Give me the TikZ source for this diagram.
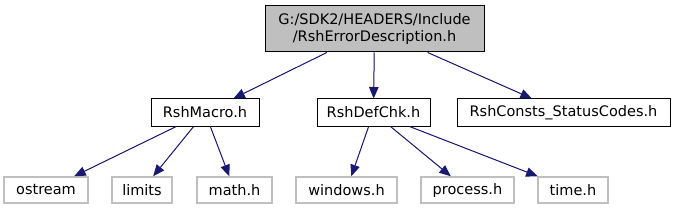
\documentclass[tikz,border=0pt]{standalone}
\usepackage{fontspec}
\setmainfont{DejaVu Sans}
\usepackage{xcolor}
\usetikzlibrary{arrows.meta}
\definecolor{edgeblue}{RGB}{25,25,112}
\definecolor{boxgray}{RGB}{191,191,191}

\tikzset{
  hdr/.style={draw=black, line width=1pt, fill=white, inner sep=0pt,
    minimum height=27pt, font=\fontsize{14.5}{17.5}\selectfont},
  sysheader/.style={hdr, draw=boxgray, line width=1.5pt, minimum height=26pt},
  dep/.style={draw=edgeblue, fill=edgeblue, line width=1pt,
    -{Triangle[length=11.5pt,width=9.5pt]}}
}

\begin{document}
\begin{tikzpicture}[x=1pt, y=-1pt]
\useasboundingbox (0,0) rectangle (676,211);

% top file
\node[hdr, fill=boxgray, minimum width=219pt, minimum height=46pt, align=center]
  (err) at (374.5,29) {G:/SDK2/HEADERS/Include\\/RshErrorDescription.h};

% direct includes
\node[hdr, minimum width=108pt] (macro) at (205,112.5) {RshMacro.h};
\node[hdr, minimum width=113pt] (defchk) at (373.5,112.5) {RshDefChk.h};
\node[hdr, minimum width=213pt] (consts) at (563.5,112.5) {RshConsts\_StatusCodes.h};

% system headers
\node[sysheader, minimum width=84pt] (ostream) at (46,190) {ostream};
\node[sysheader, minimum width=60pt] (limits) at (142,190) {limits};
\node[sysheader, minimum width=75pt] (math) at (234.5,190) {math.h};
\node[sysheader, minimum width=101pt] (windows) at (346.5,190) {windows.h};
\node[sysheader, minimum width=93pt] (process) at (467.5,190) {process.h};
\node[sysheader, minimum width=70pt] (time) at (573,190) {time.h};

\draw[dep] (err) -- (macro);
\draw[dep] (err) -- (defchk);
\draw[dep] (err) -- (consts);

\draw[dep] (macro) -- (ostream);
\draw[dep] (macro) -- (limits);
\draw[dep] (macro) -- (math);

\draw[dep] (defchk) -- (windows);
\draw[dep] (defchk) -- (process);
\draw[dep] (defchk) -- (time);
\end{tikzpicture}
\end{document}
